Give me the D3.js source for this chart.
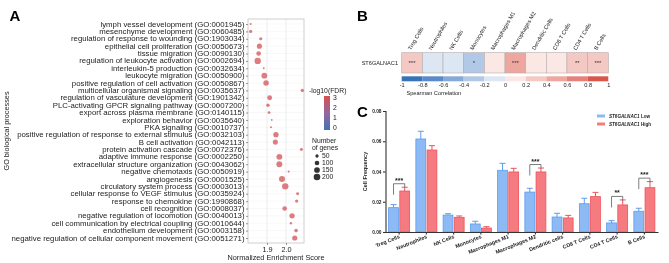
<!DOCTYPE html>
<html>
<head>
<meta charset="utf-8">
<script src="https://cdn.jsdelivr.net/npm/d3@7"></script>
<style>
body { margin: 0; background: #fff; }
svg { display: block; font-family: "Liberation Sans", Arial, sans-serif; will-change: transform; }
</style>
</head>
<body>
<svg id="fig" width="669" height="263"></svg>
<script>
//////////////////////////////////////////////
// Data //////////////////////////////////////
//////////////////////////////////////////////
// panel A - GO enrichment
var goTerms = [
    "lymph vessel development (GO:0001945)",
    "mesenchyme development (GO:0060485)",
    "regulation of response to wounding (GO:1903034)",
    "epithelial cell proliferation (GO:0050673)",
    "tissue migration (GO:0090130)",
    "regulation of leukocyte activation (GO:0002694)",
    "interleukin-5 production (GO:0032634)",
    "leukocyte migration (GO:0050900)",
    "positive regulation of cell activation (GO:0050867)",
    "multicellular organismal signaling (GO:0035637)",
    "regulation of vasculature development (GO:1901342)",
    "PLC-activating GPCR signaling pathway (GO:0007200)",
    "export across plasma membrane (GO:0140115)",
    "exploration behavior (GO:0035640)",
    "PKA signaling (GO:0010737)",
    "positive regulation of response to external stimulus (GO:0032103)",
    "B cell activation (GO:0042113)",
    "protein activation cascade (GO:0072376)",
    "adaptive immune response (GO:0002250)",
    "extracellular structure organization (GO:0043062)",
    "negative chemotaxis (GO:0050919)",
    "angiogenesis (GO:0001525)",
    "circulatory system process (GO:0003013)",
    "cellular response to VEGF stimulus (GO:0035924)",
    "response to chemokine (GO:1990868)",
    "cell recognition (GO:0008037)",
    "negative regulation of locomotion (GO:0040013)",
    "cell communication by electrical coupling (GO:0010644)",
    "endothelium development (GO:0003158)",
    "negative regulation of cellular component movement (GO:0051271)"
];
var nes = [1.814, 1.814, 1.867, 1.860, 1.856, 1.851, 1.883, 1.886, 1.895, 2.086,
           1.914, 1.905, 1.911, 1.925, 1.921, 1.947, 1.944, 2.081, 1.965, 1.965,
           2.014, 1.979, 1.996, 2.061, 2.056, 1.993, 2.032, 2.026, 2.053, 2.046];
var geneCount = [20, 50, 45, 120, 100, 190, 15, 150, 140, 50,
                 110, 55, 35, 15, 20, 130, 120, 40, 160, 160,
                 20, 170, 190, 40, 50, 100, 130, 25, 60, 125];
var logFDR = [2.9, 2.9, 2.9, 2.9, 2.9, 2.9, 2.8, 2.9, 2.9, 3,
              2.9, 2.9, 2.8, 2.8, 2.8, 2.9, 2.9, 3, 2.9, 2.9,
              2.8, 2.9, 2.9, 3, 3, 2.9, 2.9, 2.8, 2.9, 2.9];
var fdrTicks = [0, 1, 2, 3];
var sizeLegend = [50, 100, 150, 200];

// panel B - spearman heatmap
var heatCells = ["Treg Cells", "Neutrophiles", "NK Cells", "Monocytes", "Macrophages M1",
                 "Macrophages M2", "Dendritic Cells", "CD8 T Cells", "CD4 T Cells", "B Cells"];
var heatRho = [0.3, -0.1, -0.1, -0.3, 0.1, 0.45, 0.1, 0.1, 0.3, 0.3];
var heatSig = ["***", "", "", "*", "", "***", "", "", "**", "***"];
var rhoTicks = [-1, -0.8, -0.6, -0.4, -0.2, 0, 0.2, 0.4, 0.6, 0.8, 1];

// panel C - cell frequency
var cellTypes = ["Treg Cells", "Neutrophiles", "NK Cells", "Monocytes", "Macrophages M1",
                 "Macrophages M2", "Dendritic cells", "CD8 T Cells", "CD4 T Cells", "B Cells"];
var lowMean  = [0.0161, 0.0615, 0.0112, 0.0053, 0.0408, 0.0264, 0.0099, 0.0187, 0.0060, 0.0137];
var lowErr   = [0.0020, 0.0051, 0.0009, 0.0018, 0.0046, 0.0025, 0.0025, 0.0036, 0.0015, 0.0020];
var highMean = [0.0271, 0.0542, 0.0097, 0.0026, 0.0397, 0.0397, 0.0093, 0.0234, 0.0179, 0.0293];
var highErr  = [0.0025, 0.0029, 0.0009, 0.0009, 0.0024, 0.0026, 0.0017, 0.0028, 0.0033, 0.0040];
var freqSig  = ["***", "", "", "", "", "***", "", "", "**", "***"];
var freqTicks = [0, 0.02, 0.04, 0.06, 0.08];
var groups = ["Low", "High"];

var FONT = "Liberation Sans, Arial, sans-serif";
var svg = d3.select("#fig");

//////////////////////////////////////////////
// Panel A ///////////////////////////////////
//////////////////////////////////////////////
var xA = d3.scaleLinear().domain([1.8, 2.0947]).range([248, 304]);
var yA = d3.scalePoint().domain(goTerms).range([24, 238]);
var rA = d3.scaleSqrt().domain([0, 200]).range([0, 3.3]);
var cA = d3.scaleLinear().domain([0, 1.5, 3]).range(["#4272b8", "#94679c", "#d6504f"]);

var gA = svg.append("g");

gA.selectAll(".hgrid").data(goTerms).join("line")
    .attr("x1", 248).attr("x2", 304)
    .attr("y1", d => yA(d)).attr("y2", d => yA(d))
    .attr("stroke", "#f0f0f0").attr("stroke-width", 0.5);
gA.selectAll(".vgrid").data([1.9, 2.0]).join("line")
    .attr("x1", d => xA(d)).attr("x2", d => xA(d))
    .attr("y1", 19).attr("y2", 243)
    .attr("stroke", "#e4e4e4").attr("stroke-width", 0.7);

gA.append("rect")
    .attr("x", 248).attr("y", 19).attr("width", 56).attr("height", 224)
    .attr("fill", "none").attr("stroke", "#c4c4c4").attr("stroke-width", 0.8);

// rows are tight: small font, stretched sideways to the width the labels have in the figure
var termLabels = gA.append("g").attr("transform", "translate(248,0)")
    .call(d3.axisLeft(yA).tickSize(2).tickPadding(1.5))
    .attr("font-family", FONT)
    .call(g => g.select(".domain").remove())
    .call(g => g.selectAll("line").attr("stroke", "#555").attr("stroke-width", 0.6))
    .selectAll("text").attr("font-size", 6.5).attr("fill", "#222");

var longest = d3.max(termLabels.nodes(), n => n.getComputedTextLength());
var stretch = 233 / longest;
termLabels.each(function() {
    var len = this.getComputedTextLength();
    d3.select(this).attr("textLength", len * stretch).attr("lengthAdjust", "spacingAndGlyphs");
});

gA.append("g").attr("transform", "translate(0,243)")
    .call(d3.axisBottom(xA).tickValues([1.9, 2.0]).tickFormat(d3.format(".1f")).tickSize(2).tickPadding(1.5))
    .attr("font-family", FONT)
    .call(g => g.select(".domain").remove())
    .call(g => g.selectAll("line").attr("stroke", "#555").attr("stroke-width", 0.6))
    .selectAll("text").attr("font-size", 7.3).attr("fill", "#222");

gA.selectAll(".dot").data(goTerms).join("circle")
    .attr("cx", (d, i) => xA(nes[i]))
    .attr("cy", d => yA(d))
    .attr("r", (d, i) => rA(geneCount[i]))
    .attr("fill", (d, i) => cA(logFDR[i]))
    .attr("fill-opacity", 0.75);

gA.append("text").attr("x", 276).attr("y", 259.5).attr("text-anchor", "middle")
    .attr("font-size", 7.3).attr("fill", "#222").text("Normalized Enrichment Score");
gA.append("text").attr("transform", "translate(8.5,131) rotate(-90)").attr("text-anchor", "middle")
    .attr("font-size", 7.3).attr("fill", "#222").text("GO biological processes");
gA.append("text").attr("x", 9.5).attr("y", 21).attr("font-size", 15).attr("font-weight", "bold").text("A");

// colour legend
var grad = svg.append("defs").append("linearGradient").attr("id", "fdrGrad")
    .attr("x1", 0).attr("x2", 0).attr("y1", 1).attr("y2", 0);
grad.selectAll("stop").data(d3.range(0, 3.01, 0.5)).join("stop")
    .attr("offset", d => d / 3).attr("stop-color", d => cA(d));
gA.append("text").attr("x", 309).attr("y", 93).attr("font-size", 6.8).attr("fill", "#222").text("-log10(FDR)");
var yFdr = d3.scaleLinear().domain([0, 3]).range([128, 98]);
gA.append("rect").attr("x", 324).attr("y", 96).attr("width", 6).attr("height", 34).attr("fill", "url(#fdrGrad)");
gA.selectAll(".fdrlab").data(fdrTicks).join("text")
    .attr("x", 333).attr("y", d => yFdr(d) + 2.4)
    .attr("font-size", 6.8).attr("fill", "#222").text(d => d);
gA.append("text").attr("x", 312).attr("y", 142.5).attr("font-size", 6.8).attr("fill", "#222").text("Number");
gA.append("text").attr("x", 312).attr("y", 149.5).attr("font-size", 6.8).attr("fill", "#222").text("of genes");
var ySize = d3.scalePoint().domain(sizeLegend).range([156, 177]);
gA.selectAll(".szdot").data(sizeLegend).join("circle")
    .attr("cx", 317).attr("cy", d => ySize(d)).attr("r", d => rA(d)).attr("fill", "#333");
gA.selectAll(".szlab").data(sizeLegend).join("text")
    .attr("x", 322).attr("y", d => ySize(d) + 2.4)
    .attr("font-size", 6.8).attr("fill", "#222").text(d => d);

//////////////////////////////////////////////
// Panel B ///////////////////////////////////
//////////////////////////////////////////////
var gB = svg.append("g");
var binColors = ["#3a72b8", "#5a8ac8", "#86a9d8", "#b1c9e6", "#dde7f3",
                 "#fbe8e5", "#f5c9c3", "#eea79e", "#e5817a", "#d9564a"];
var colB = d3.scaleThreshold().domain([-0.8, -0.6, -0.4, -0.2, 0, 0.2, 0.4, 0.6, 0.8]).range(binColors);
var xB = d3.scaleBand().domain(heatCells).range([401.7, 608.3]);

gB.append("text").attr("x", 357).attr("y", 21).attr("font-size", 15).attr("font-weight", "bold").text("B");

gB.selectAll(".cell").data(heatCells).join("rect")
    .attr("x", d => xB(d)).attr("y", 52.7)
    .attr("width", xB.bandwidth()).attr("height", 20.3)
    .attr("fill", (d, i) => colB(heatRho[i]))
    .attr("stroke", "#b5abab").attr("stroke-width", 0.6);
gB.selectAll(".star").data(heatCells).join("text")
    .attr("x", d => xB(d) + xB.bandwidth() / 2).attr("y", 65)
    .attr("text-anchor", "middle").attr("font-size", 6).attr("fill", "#333")
    .text((d, i) => heatSig[i]);
gB.selectAll(".collab").data(heatCells).join("text")
    .attr("x", 0).attr("y", 0)
    .attr("transform", d => "translate(" + (xB(d) + xB.bandwidth() / 2 - 1) + ",50.5) rotate(-60)")
    .attr("font-size", 5.6).attr("fill", "#222").text(d => d);
gB.append("text").attr("x", 398).attr("y", 65).attr("text-anchor", "end")
    .attr("font-size", 5.6).attr("fill", "#222").text("ST6GALNAC1");

var xCb = d3.scaleLinear().domain([-1, 1]).range([401.7, 608.3]);
gB.selectAll(".bin").data(binColors).join("rect")
    .attr("x", (d, i) => xCb(rhoTicks[i])).attr("y", 76.3)
    .attr("width", (d, i) => xCb(rhoTicks[i + 1]) - xCb(rhoTicks[i])).attr("height", 5)
    .attr("fill", d => d);
gB.append("g").attr("transform", "translate(0,81.3)")
    .call(d3.axisBottom(xCb).tickValues(rhoTicks).tickFormat(d => d).tickSize(0).tickPadding(2.2))
    .attr("font-family", FONT)
    .call(g => g.select(".domain").remove())
    .selectAll("text").attr("font-size", 5.6).attr("fill", "#222");
gB.append("text").attr("x", 406.5).attr("y", 94.5).attr("font-size", 5.6).attr("fill", "#222").text("Spearman Correlation");

//////////////////////////////////////////////
// Panel C ///////////////////////////////////
//////////////////////////////////////////////
var gC = svg.append("g");
var x0 = d3.scaleBand().domain(cellTypes).range([385.5, 658]).paddingInner(0.2).paddingOuter(0.1);
var x1 = d3.scaleBand().domain(groups).range([0, x0.bandwidth()]).paddingInner(0.05);
var yC = d3.scaleLinear().domain([0, 0.08]).range([232, 111]);
var fillC = { Low: "#8dbaf4", High: "#f67b80" };
var edgeC = { Low: "#5c9cee", High: "#ee525a" };

gC.append("text").attr("x", 357).attr("y", 117).attr("font-size", 15).attr("font-weight", "bold").text("C");

var barData = [];
cellTypes.forEach(function(c, i) {
    barData.push({ cell: c, grp: "Low", mean: lowMean[i], err: lowErr[i] });
    barData.push({ cell: c, grp: "High", mean: highMean[i], err: highErr[i] });
});

// error bars (upper only)
gC.selectAll(".err").data(barData).join("path")
    .attr("d", function(d) {
        var cx = x0(d.cell) + x1(d.grp) + x1.bandwidth() / 2;
        var yt = yC(d.mean + d.err);
        return "M" + cx + "," + yC(d.mean) + "V" + yt + "M" + (cx - 3) + "," + yt + "H" + (cx + 3);
    })
    .attr("fill", "none").attr("stroke", d => edgeC[d.grp]).attr("stroke-width", 1);

gC.selectAll(".bar").data(barData).join("rect")
    .attr("x", d => x0(d.cell) + x1(d.grp) + 0.4)
    .attr("y", d => yC(d.mean))
    .attr("width", x1.bandwidth() - 0.8)
    .attr("height", d => yC(0) - yC(d.mean))
    .attr("fill", d => fillC[d.grp]).attr("stroke", d => edgeC[d.grp]).attr("stroke-width", 0.8);

// significance brackets
cellTypes.forEach(function(c, i) {
    if (!freqSig[i]) return;
    var xl = x0(c) + x1("Low") + x1.bandwidth() / 2;
    var xr = x0(c) + x1("High") + x1.bandwidth() / 2;
    var top = Math.min(yC(lowMean[i] + lowErr[i]), yC(highMean[i] + highErr[i])) - 3.5;
    gC.append("path")
        .attr("d", "M" + xl + "," + (top + 11) + "V" + top + "H" + xr + "V" + (top + 4))
        .attr("fill", "none").attr("stroke", "#6e6e6e").attr("stroke-width", 0.9);
    gC.append("text").attr("x", (xl + xr) / 2).attr("y", top - 1)
        .attr("text-anchor", "middle").attr("font-size", 7).attr("font-weight", "bold")
        .attr("fill", "#222").text(freqSig[i]);
});

gC.append("g").attr("transform", "translate(385.5,0)")
    .call(d3.axisLeft(yC).tickValues(freqTicks).tickFormat(d3.format(".2f")).tickSize(2.5).tickPadding(1.5))
    .attr("font-family", FONT)
    .call(g => g.selectAll("line, path").attr("stroke", "#333").attr("stroke-width", 1.1))
    .selectAll("text").attr("font-size", 4.8).attr("font-weight", "bold").attr("fill", "#222");

gC.append("g").attr("transform", "translate(0,232)")
    .call(d3.axisBottom(x0).tickSize(2.5).tickSizeOuter(0).tickFormat(""))
    .call(g => g.selectAll("line, path").attr("stroke", "#333").attr("stroke-width", 1.1));
gC.selectAll(".xlab").data(cellTypes).join("text")
    .attr("transform", d => "translate(" + (x0(d) + x0.bandwidth() / 2 + 1) + ",238) rotate(-22)")
    .attr("text-anchor", "end").attr("font-size", 5.3).attr("font-weight", "bold")
    .attr("fill", "#222").text(d => d);

gC.append("text").attr("transform", "translate(366.5,171.5) rotate(-90)").attr("text-anchor", "middle")
    .attr("font-size", 5.5).attr("font-weight", "bold").attr("fill", "#222").text("Cell Frequency");

// legend
var yLeg = d3.scalePoint().domain(groups).range([116, 124]);
gC.selectAll(".legline").data(groups).join("line")
    .attr("x1", 597).attr("x2", 605)
    .attr("y1", d => yLeg(d)).attr("y2", d => yLeg(d))
    .attr("stroke", d => fillC[d]).attr("stroke-width", 3);
var legText = gC.selectAll(".legtxt").data(groups).join("text")
    .attr("x", 609).attr("y", d => yLeg(d) + 1.7)
    .attr("font-size", 4.6).attr("font-weight", "bold").attr("fill", "#222");
legText.append("tspan").attr("font-style", "italic").text("ST6GALNAC1");
legText.append("tspan").text(d => " " + d);
</script>
</body>
</html>
